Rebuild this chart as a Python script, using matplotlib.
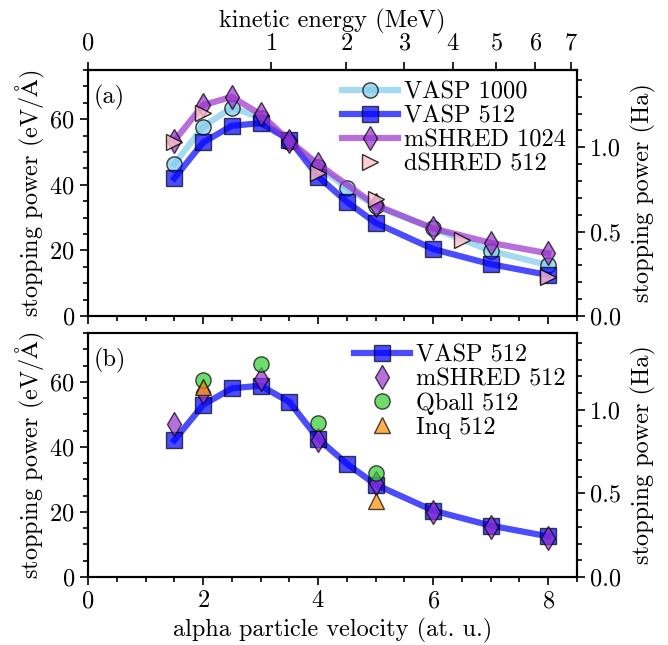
import numpy as np
import matplotlib
matplotlib.use("Agg")
import matplotlib.pyplot as plt
from matplotlib.ticker import MultipleLocator, FixedLocator, FormatStrFormatter

plt.rcParams['font.family'] = 'serif'
plt.rcParams['font.serif'] = ['cmr10']
plt.rcParams['mathtext.fontset'] = 'cm'
plt.rcParams['axes.formatter.use_mathtext'] = True
plt.rcParams['font.size'] = 17.5
plt.rcParams['axes.linewidth'] = 1.5

# ---------------- data ----------------
v_vasp1000 = [1.5, 2, 2.5, 3, 3.5, 4, 4.5, 5, 6, 7, 8]
s_vasp1000 = [46.3, 57.7, 63.5, 60.5, 53.1, 45.5, 39.1, 33.5, 26.7, 19.9, 15.5]

v_vasp512 = [1.5, 2, 2.5, 3, 3.5, 4, 4.5, 5, 6, 7, 8]
s_vasp512 = [42.0, 52.9, 58.0, 58.8, 53.8, 42.5, 34.8, 28.4, 20.4, 15.8, 12.5]

v_mshred1024 = [1.5, 2, 2.5, 3, 3.5, 4, 5, 6, 7, 8]
s_mshred1024 = [53.4, 64.3, 66.8, 61.5, 53.4, 46.3, 33.8, 26.7, 22.3, 19.1]

v_dshred512 = [1.5, 2, 4, 5, 6.5, 8]
s_dshred512 = [53.0, 62.0, 43.5, 35.8, 23.1, 12.0]

v_mshred512 = [1.5, 2, 3, 4, 5, 6, 7, 8]
s_mshred512 = [47.0, 57.0, 61.0, 42.0, 29.0, 20.1, 15.5, 12.1]

v_qball512 = [2, 3, 4, 5]
s_qball512 = [60.5, 65.5, 47.2, 32.0]

v_inq512 = [2, 5]
s_inq512 = [58.5, 23.3]

energy_ticks = [0, 1, 2, 3, 4, 5, 6, 7]

# conversions
EV_PER_ANG_PER_HA_BOHR = 27.211386 / 0.529177
M_ALPHA = 7294.30  # electron masses
HA_EV = 27.211386
def v2E(v):
    v = np.asarray(v, dtype=float)
    return 0.5 * M_ALPHA * v**2 * HA_EV * 1e-6
def E2v(E):
    E = np.asarray(E, dtype=float)
    return np.sqrt(np.clip(E, 0, None) / (0.5 * M_ALPHA * HA_EV * 1e-6))

fig = plt.figure(figsize=(6.68, 6.45), dpi=100)
W, H = 668, 645
def ax_rect(l, t, r, b):
    return [l / W, 1 - b / H, (r - l) / W, (b - t) / H]

ax1 = fig.add_axes(ax_rect(88, 70, 577, 316))
ax2 = fig.add_axes(ax_rect(88, 333, 577, 577))

lw = 4.5
ms = 12
ec = 'k'

ax1.plot(v_vasp1000, s_vasp1000, '-o', color='skyblue', lw=lw, ms=ms - 1, mec=ec, alpha=0.75, label='VASP 1000')
ax1.plot(v_vasp512, s_vasp512, '-s', color='blue', lw=lw, ms=ms, mec=ec, alpha=0.7, label='VASP 512')
ax1.plot(v_mshred1024, s_mshred1024, '-d', color='darkorchid', lw=lw, ms=ms, mec=ec, alpha=0.7, label='mSHRED 1024')
ax1.plot(v_dshred512, s_dshred512, '>', color='pink', ms=ms, mec=ec, alpha=0.8, label='dSHRED 512')

ax2.plot(v_vasp512, s_vasp512, '-s', color='blue', lw=lw, ms=ms, mec=ec, alpha=0.7, label='VASP 512')
ax2.plot(v_mshred512, s_mshred512, 'd', color='darkorchid', ms=ms, mec=ec, alpha=0.7, label='mSHRED 512')
ax2.plot(v_qball512, s_qball512, 'o', color='limegreen', ms=ms - 1, mec=ec, alpha=0.7, label='Qball 512')
ax2.plot(v_inq512, s_inq512, '^', color='darkorange', ms=ms - 1, mec=ec, alpha=0.7, label='Inq 512')

ylabel = r'stopping power (eV$/\mathrm{\AA}$)'
for ax in (ax1, ax2):
    ax.set_xlim(0, 8.5)
    ax.set_ylim(0, 75)
    ax.xaxis.set_major_locator(MultipleLocator(2))
    ax.xaxis.set_minor_locator(MultipleLocator(0.5))
    ax.yaxis.set_major_locator(MultipleLocator(20))
    ax.yaxis.set_minor_locator(MultipleLocator(5))
    ax.tick_params(which='both', direction='out', width=1.2)
    ax.tick_params(which='major', length=6)
    ax.tick_params(which='minor', length=3.5)
    ax.set_ylabel(ylabel, labelpad=2)
    tw = ax.twinx()
    tw.set_ylim(0, 75 / EV_PER_ANG_PER_HA_BOHR)
    tw.yaxis.set_major_locator(MultipleLocator(0.5))
    tw.yaxis.set_minor_locator(MultipleLocator(0.1))
    tw.yaxis.set_major_formatter(FormatStrFormatter('%.1f'))
    tw.tick_params(which='both', direction='out', width=1.2)
    tw.tick_params(which='major', length=6)
    tw.tick_params(which='minor', length=3.5)
    tw.set_ylabel('stopping power (Ha)', labelpad=7)

ax1.tick_params(axis='x', labelbottom=False)
ax2.set_xlabel('alpha particle velocity (at. u.)', labelpad=4)

sec = ax1.secondary_xaxis('top', functions=(v2E, E2v))
sec.xaxis.set_major_locator(FixedLocator(energy_ticks))
sec.xaxis.set_minor_locator(FixedLocator([]))
sec.tick_params(which='major', direction='out', length=6, width=1.2, pad=5)
sec.set_xlabel('kinetic energy (MeV)', labelpad=4)

ax1.text(0.012, 0.94, '(a)', transform=ax1.transAxes, ha='left', va='top')
ax2.text(0.012, 0.94, '(b)', transform=ax2.transAxes, ha='left', va='top')

leg_kw = dict(loc='upper right', frameon=False, labelspacing=0.08, handlelength=2.3,
              handletextpad=0.25, borderaxespad=0.2, borderpad=0.25)
ax1.legend(**leg_kw)
ax2.legend(**leg_kw)

fig.savefig('out.png', dpi=100)
